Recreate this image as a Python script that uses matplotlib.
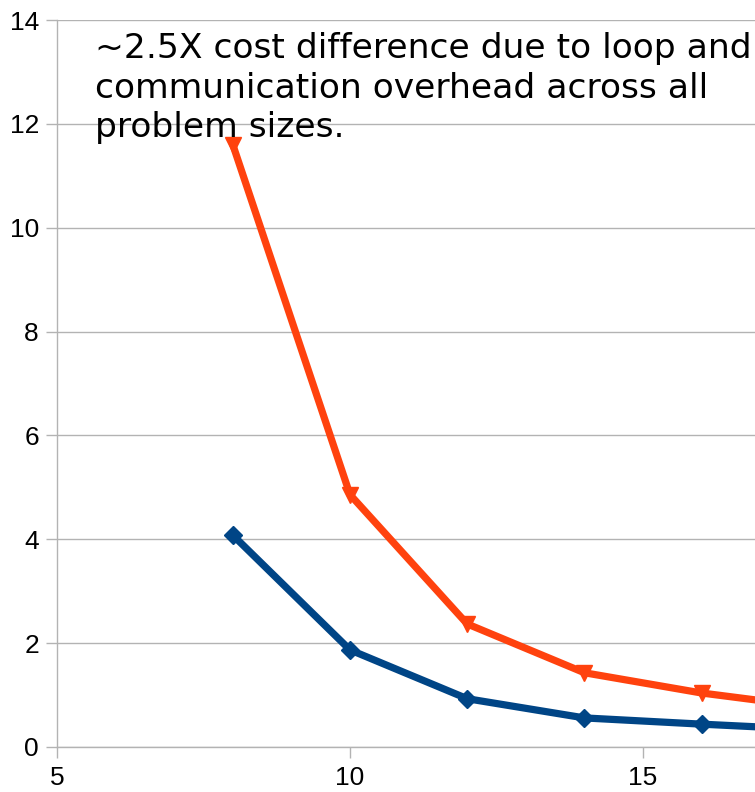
import matplotlib
matplotlib.use("Agg")
import matplotlib.pyplot as plt

# Problem size vs. cost for the two implementations
sizes = [8, 10, 12, 14, 16, 18]
cost_high = [11.6, 4.86, 2.37, 1.43, 1.04, 0.75]
cost_low = [4.08, 1.87, 0.93, 0.56, 0.44, 0.33]

y_ticks = [0, 2, 4, 6, 8, 10, 12, 14]
x_ticks = [5, 10, 15]

note_lines = [
    "~2.5X cost difference due to loop and",
    "communication overhead across all",
    "problem sizes.",
]

fig = plt.figure(figsize=(7.55, 7.92), dpi=100)
W, H = 755, 792
ax = fig.add_axes([57 / W, (H - 747) / H, (755 - 57) / W, (747 - 20) / H])

grid_c = "#b3b3b3"
ax.set_xlim(5, 5 + (755 - 57) / 58.6)
ax.set_ylim(0, 14)
ax.set_yticks(y_ticks)
ax.set_xticks(x_ticks)
ax.yaxis.grid(True, color=grid_c, linewidth=1)
ax.set_axisbelow(True)
for side in ("top", "right"):
    ax.spines[side].set_visible(False)
for side in ("left", "bottom"):
    ax.spines[side].set_color(grid_c)
    ax.spines[side].set_linewidth(1)
ax.tick_params(axis="both", colors=grid_c, length=8, width=1, labelsize=19,
               labelcolor="black")
ax.tick_params(axis="y", pad=5)
ax.tick_params(axis="x", pad=6)
for lab in ax.get_xticklabels() + ax.get_yticklabels():
    lab.set_family("Liberation Sans")

ax.plot(sizes, cost_high, color="#ff420e", linewidth=5.2, marker="v",
        markersize=12, clip_on=True)
ax.plot(sizes, cost_low, color="#004586", linewidth=5.2, marker="D",
        markersize=9, clip_on=True)

# annotation, one line per baseline
for i, line in enumerate(note_lines):
    fig.text(95 / W, 1 - (58 + 39.5 * i) / H, line, fontsize=24.8,
             va="baseline", ha="left", color="black")

fig.savefig("out.png", dpi=100)
